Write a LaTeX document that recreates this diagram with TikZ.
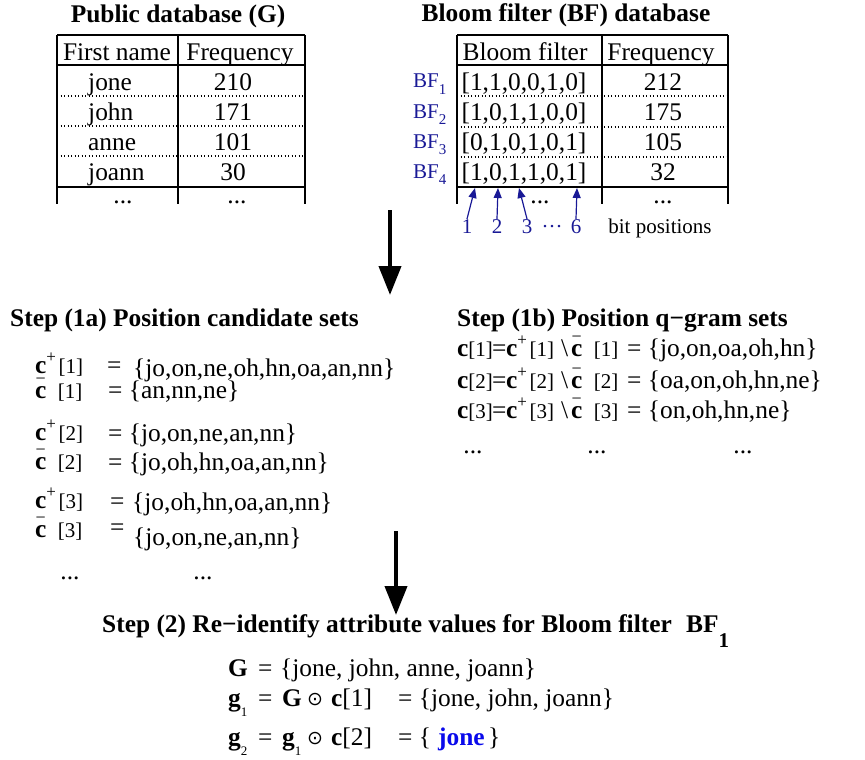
\documentclass[tikz,border=0pt]{standalone}
\usepackage{fontspec}
\setmainfont{Liberation Serif}
\newfontfamily\opfont{DejaVu Sans}
\usetikzlibrary{arrows.meta}
\definecolor{bfblue}{RGB}{25,25,150}
\definecolor{hitblue}{RGB}{10,10,235}
% bold c with a raised plus / a minus set over it
\newcommand\cpos{\textbf{c}\raisebox{0.42em}{\fontsize{17}{17}\selectfont +}\kern0.1em}
\newcommand\cneg{\textbf{c}\kern-0.43em\raisebox{0.53em}{\fontsize{18}{18}\selectfont −}\kern0.48em}
% smaller position index in brackets
\newcommand\ix[1]{{\fontsize{21}{21}\selectfont[#1]}}
% bold g with a lowered small index
\newcommand\gsub[1]{\textbf{g}\raisebox{-0.42em}{\fontsize{13}{13}\selectfont #1}}
\begin{document}
\begin{tikzpicture}[x=1pt,y=-1pt,
  every node/.style={inner sep=0pt, font=\fontsize{25.4}{30}\selectfont},
  txt/.style={anchor=base west},
  ctr/.style={anchor=base},
  ttl/.style={anchor=base, font=\fontsize{25.4}{30}\selectfont\bfseries},
  small/.style={font=\fontsize{21}{24}\selectfont},
  opsym/.style={anchor=base, font=\fontsize{19}{19}\opfont},
  grid/.style={line width=1.3pt},
  rowsep/.style={line width=1.1pt, dash pattern=on 1.1pt off 2.4pt},
  bigarrow/.style={line width=4pt, -{Triangle[length=29pt,width=22pt]}},
  bitarrow/.style={bfblue, line width=1.2pt, -{Triangle[length=10pt,width=8pt]}},
]
\useasboundingbox (0,0) rectangle (865,760);

% ---------- public database table ----------
\node[ttl] (gtitle) at (178,23) {Public database (G)};
\draw[grid] (57,35) -- (305,35) (57,65) -- (305,65) (57,187) -- (305,187);
\draw[grid] (57,35) -- (57,204) (178,35) -- (178,204) (305,35) -- (305,204);
\draw[rowsep] (57,96) -- (305,96) (57,126) -- (305,126) (57,156) -- (305,156);
\node[ctr] (gh1) at (117,60) {First name};
\node[ctr] (gh2) at (240,60) {Frequency};
\node[txt] (gn1) at (88,90) {jone};
\node[txt] (gn2) at (88,120) {john};
\node[txt] (gn3) at (88,150) {anne};
\node[txt] (gn4) at (88,180) {joann};
\node[ctr] (gf1) at (233,90) {210};
\node[ctr] (gf2) at (233,120) {171};
\node[ctr] (gf3) at (233,150) {101};
\node[ctr] (gf4) at (233,180) {30};
\node[ctr] (gd1) at (123,203) {...};
\node[ctr] (gd2) at (237,203) {...};

% ---------- Bloom filter database table ----------
\node[ttl] (btitle) at (566,22) {Bloom filter (BF) database};
\draw[grid] (457,35) -- (728,35) (457,65) -- (728,65) (457,187) -- (728,187);
\draw[grid] (457,35) -- (457,204) (602,35) -- (602,204) (728,35) -- (728,204);
\draw[rowsep] (457,96) -- (728,96) (457,127) -- (728,127) (457,157) -- (728,157);
\node[ctr] (bh1) at (525,60) {Bloom filter};
\node[ctr] (bh2) at (661,60) {Frequency};
\node[ctr] (bv1) at (524,90) {[1,1,0,0,1,0]};
\node[ctr] (bv2) at (524,120) {[1,0,1,1,0,0]};
\node[ctr] (bv3) at (524,150) {[0,1,0,1,0,1]};
\node[ctr] (bv4) at (524,180) {[1,0,1,1,0,1]};
\node[ctr] (bf1) at (663,90) {212};
\node[ctr] (bf2) at (663,120) {175};
\node[ctr] (bf3) at (663,150) {105};
\node[ctr] (bf4) at (663,180) {32};
\node[ctr] (bd1) at (540,203) {...};
\node[ctr] (bd2) at (663,203) {...};
\foreach \i/\y in {1/88,2/118,3/148,4/178}
  \node[txt,small,text=bfblue] (bfl\i) at (413,\y)
    {BF\raisebox{-0.3em}{\fontsize{15}{15}\selectfont \i}};

% bit positions
\node[ctr,small,text=bfblue] (p1) at (467,233) {1};
\node[ctr,small,text=bfblue] (p2) at (497,233) {2};
\node[ctr,small,text=bfblue] (p3) at (527,233) {3};
\node[ctr,small,text=bfblue] (pd) at (552,233) {···};
\node[ctr,small,text=bfblue] (p6) at (576,233) {6};
\node[ctr,small] (plabel) at (660,233) {bit positions};
\coordinate (t1) at (475,188);
\coordinate (t2) at (498,188);
\coordinate (t3) at (519,188);
\coordinate (t6) at (577,188);
\draw[bitarrow] (p1.north) -- (t1);
\draw[bitarrow] (p2.north) -- (t2);
\draw[bitarrow] (p3.north) -- (t3);
\draw[bitarrow] (p6.north) -- (t6);

% ---------- flow arrows ----------
\coordinate (a1s) at (390,210);
\coordinate (a1e) at (390,295);
\draw[bigarrow] (a1s) -- (a1e);
\coordinate (a2s) at (396,531);
\coordinate (a2e) at (396,615);
\draw[bigarrow] (a2s) -- (a2e);

% ---------- step 1a ----------
\node[ttl,anchor=base west] (s1a) at (10,326) {Step (1a) Position candidate sets};
\node[txt] (cp1) at (35,373) {\cpos\ix{1}};
\node[txt] (cp1eq) at (107,373) {=};
\node[txt] (cp1set) at (133,376) {\{jo,on,ne,oh,hn,oa,an,nn\}};
\node[txt] (cm1) at (35,398) {\cneg\ix{1}};
\node[txt] (cm1set) at (108,398) {= \{an,nn,ne\}};
\node[txt] (cp2) at (35,440) {\cpos\ix{2}};
\node[txt] (cp2set) at (108,441) {= \{jo,on,ne,an,nn\}};
\node[txt] (cm2) at (35,469) {\cneg\ix{2}};
\node[txt] (cm2set) at (108,470) {= \{jo,oh,hn,oa,an,nn\}};
\node[txt] (cp3) at (35,508) {\cpos\ix{3}};
\node[txt] (cp3eq) at (110,509) {=};
\node[txt] (cp3set) at (132,510) {\{jo,oh,hn,oa,an,nn\}};
\node[txt] (cm3) at (35,537) {\cneg\ix{3}};
\node[txt] (cm3eq) at (110,535) {=};
\node[txt] (cm3set) at (133,545) {\{jo,on,ne,an,nn\}};
\node[ctr] (s1ad1) at (70,579) {...};
\node[ctr] (s1ad2) at (203,579) {...};

% ---------- step 1b ----------
\node[ttl,anchor=base west] (s1b) at (457,326) {Step (1b) Position q−gram sets};
\foreach \i/\y/\s in {1/356/{jo,on,oa,oh,hn},2/388/{oa,on,oh,hn,ne},3/418/{on,oh,hn,ne}}{
  \node[txt] (q\i) at (457,\y) {\textbf{c}\ix{\i}};
  \node[txt] (q\i eq) at (492,\y) {=};
  \node[txt] (q\i p) at (506,\y) {\cpos\ix{\i}};
  \node[txt] (q\i bs) at (561,\y) {\textbackslash};
  \node[txt] (q\i m) at (571,\y) {\cneg\ix{\i}};
  \node[txt] (q\i set) at (627,\y) {= \{\s\}};
}
\node[ctr] (s1bd1) at (473,453) {...};
\node[ctr] (s1bd2) at (597,453) {...};
\node[ctr] (s1bd3) at (743,453) {...};

% ---------- step 2 ----------
\node[ttl,anchor=base west] (s2) at (102,632) {Step (2) Re−identify attribute values for Bloom filter};
\node[ttl,anchor=base west] (s2bf) at (686,632) {BF\raisebox{-15pt}{\fontsize{21}{21}\selectfont\bfseries 1}};

\node[txt] (G) at (228,676) {\textbf{G}};
\node[txt] (Geq) at (258,676) {=};
\node[txt] (Gset) at (280,676) {\{jone, john, anne, joann\}};

\node[txt] (g1) at (228,706) {\gsub{1}};
\node[txt] (g1eq) at (258,706) {=};
\node[txt] (g1G) at (282,706) {\textbf{G}};
\node[opsym] (g1op) at (315,705) {⊙};
\node[txt] (g1c) at (331,706) {\textbf{c}[1]};
\node[txt] (g1set) at (398,706) {= \{jone, john, joann\}};

\node[txt] (g2) at (228,745) {\gsub{2}};
\node[txt] (g2eq) at (258,745) {=};
\node[txt] (g2g) at (282,745) {\gsub{1}};
\node[opsym] (g2op) at (315,744) {⊙};
\node[txt] (g2c) at (331,745) {\textbf{c}[2]};
\node[txt] (g2open) at (398,745) {= \{};
\node[txt,text=hitblue] (g2hit) at (438,745) {\textbf{jone}};
\node[txt] (g2close) at (488,745) {\}};
\end{tikzpicture}
\end{document}
